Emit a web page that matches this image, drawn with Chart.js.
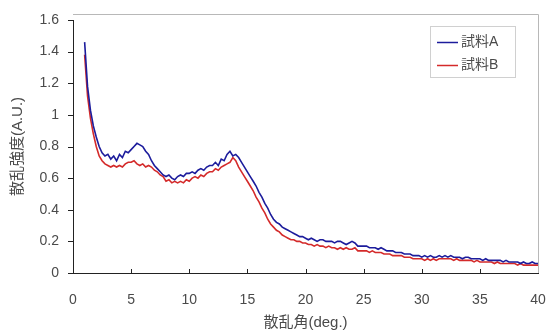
<!DOCTYPE html>
<html>
<head>
<meta charset="utf-8">
<script src="https://cdn.jsdelivr.net/npm/chart.js@4"></script>
<style>
  html, body { margin: 0; padding: 0; background: #fff; }
  #wrap { width: 550px; height: 335px; }
</style>
</head>
<body>
<div id="wrap"><canvas id="myChart" width="550" height="335"></canvas></div>
<script>
// 散乱角 (deg) : 1.0 から 0.25 刻み
var angleStart = 1.0;
var angleStep = 0.25;

var seriesNames = ['試料A', '試料B'];
var seriesColors = ['#1c1c9c', '#d42a2a'];

// 試料A (1行 = 1 deg 分)
var sampleA = [
  1.46, 1.18, 1.03, 0.93,
  0.86, 0.80, 0.76, 0.74,
  0.75, 0.72, 0.74, 0.71,
  0.75, 0.73, 0.77, 0.76,
  0.78, 0.80, 0.82, 0.81,
  0.80, 0.77, 0.75, 0.71,
  0.68, 0.66, 0.64, 0.62,
  0.61, 0.62, 0.60, 0.59,
  0.61, 0.62, 0.61, 0.63,
  0.63, 0.64, 0.63, 0.65,
  0.66, 0.65, 0.67, 0.68,
  0.68, 0.70, 0.68, 0.72,
  0.71, 0.75, 0.77, 0.74,
  0.75, 0.73, 0.70, 0.67,
  0.64, 0.61, 0.58, 0.55,
  0.51, 0.48, 0.44, 0.41,
  0.37, 0.34, 0.32, 0.31,
  0.29, 0.28, 0.27, 0.26,
  0.25, 0.24, 0.23, 0.23,
  0.22, 0.21, 0.22, 0.21,
  0.20, 0.21, 0.21, 0.20,
  0.20, 0.20, 0.19, 0.20,
  0.20, 0.19, 0.18, 0.19,
  0.20, 0.19, 0.17, 0.17,
  0.17, 0.17, 0.16, 0.16,
  0.16, 0.15, 0.16, 0.15,
  0.14, 0.14, 0.14, 0.13,
  0.13, 0.13, 0.12, 0.12,
  0.12, 0.11, 0.11, 0.11,
  0.10, 0.11, 0.10, 0.11,
  0.10, 0.10, 0.11, 0.10,
  0.11, 0.10, 0.11, 0.10,
  0.10, 0.10, 0.09, 0.10,
  0.10, 0.09, 0.09, 0.09,
  0.09, 0.08, 0.09, 0.08,
  0.08, 0.08, 0.08, 0.08,
  0.07, 0.08, 0.07, 0.07,
  0.07, 0.07, 0.06, 0.07,
  0.06, 0.06, 0.07, 0.06,
  0.06
];

// 試料B
var sampleB = [
  1.38, 1.12, 0.98, 0.88,
  0.80, 0.74, 0.71, 0.69,
  0.68, 0.67, 0.68, 0.67,
  0.68, 0.67, 0.69, 0.70,
  0.70, 0.71, 0.69, 0.68,
  0.69, 0.67, 0.68, 0.67,
  0.65, 0.64, 0.62, 0.61,
  0.58, 0.59, 0.57, 0.58,
  0.57, 0.58, 0.57, 0.59,
  0.58, 0.60, 0.61, 0.60,
  0.62, 0.61, 0.63, 0.64,
  0.64, 0.66, 0.65, 0.67,
  0.68, 0.69, 0.70, 0.73,
  0.71, 0.67, 0.64, 0.61,
  0.58, 0.55, 0.52, 0.48,
  0.45, 0.41, 0.38, 0.34,
  0.31, 0.29, 0.27, 0.26,
  0.24, 0.23, 0.22, 0.21,
  0.21, 0.20, 0.20, 0.19,
  0.19, 0.18, 0.18, 0.17,
  0.18, 0.17, 0.17, 0.16,
  0.17, 0.16, 0.16, 0.15,
  0.16, 0.15, 0.16, 0.15,
  0.15, 0.16, 0.14, 0.14,
  0.14, 0.14, 0.13, 0.14,
  0.13, 0.13, 0.13, 0.12,
  0.12, 0.12, 0.11, 0.11,
  0.11, 0.11, 0.10, 0.10,
  0.10, 0.09, 0.09, 0.09,
  0.09, 0.08, 0.09, 0.08,
  0.09, 0.08, 0.09, 0.09,
  0.09, 0.09, 0.09, 0.08,
  0.09, 0.08, 0.08, 0.08,
  0.08, 0.08, 0.07, 0.08,
  0.07, 0.07, 0.07, 0.07,
  0.07, 0.06, 0.07, 0.06,
  0.06, 0.06, 0.06, 0.06,
  0.06, 0.05, 0.06, 0.05,
  0.05, 0.05, 0.05, 0.05,
  0.05
];

var xTicks = [0, 5, 10, 15, 20, 25, 30, 35, 40];
var yTicks = [0, 0.2, 0.4, 0.6, 0.8, 1, 1.2, 1.4, 1.6];

var FONT = "'Liberation Sans', 'Noto Sans CJK JP', sans-serif";
var TEXT = '#4a4a4a';

function toPoints(vals) {
  var pts = [];
  vals.forEach(function (v, i) {
    pts.push({ x: angleStart + i * angleStep, y: v });
  });
  return pts;
}

// 枠・目盛・凡例
var framePlugin = {
  id: 'frame',
  afterDatasetsDraw: function (chart) {
    var c = chart.ctx, a = chart.chartArea;
    var xs = chart.scales.x, ys = chart.scales.y;
    c.save();
    // 上・右の薄い枠
    c.strokeStyle = '#b8b8b8';
    c.lineWidth = 1;
    c.beginPath();
    c.moveTo(a.left, a.top - 6 + 0.5);
    c.lineTo(a.right + 0.5, a.top - 6 + 0.5);
    c.lineTo(a.right + 0.5, a.bottom);
    c.stroke();
    // x 軸の内向き目盛
    c.strokeStyle = '#222';
    c.beginPath();
    xTicks.forEach(function (t) {
      if (t === 0 || t === 40) return;
      var px = Math.round(xs.getPixelForValue(t)) + 0.5;
      c.moveTo(px, a.bottom);
      c.lineTo(px, a.bottom - 4);
    });
    // y 軸の外向き目盛
    yTicks.forEach(function (t) {
      var py = Math.round(ys.getPixelForValue(t)) + 0.5;
      c.moveTo(a.left, py);
      c.lineTo(a.left - 5, py);
    });
    c.stroke();

    // 凡例
    var bx = 430, by = 26, bw = 85, bh = 51;
    c.fillStyle = '#fff';
    c.fillRect(bx, by, bw, bh);
    c.strokeStyle = '#d0d0d0';
    c.strokeRect(bx + 0.5, by + 0.5, bw, bh);
    c.font = '14px ' + FONT;
    c.textBaseline = 'middle';
    chart.data.datasets.forEach(function (ds, i) {
      var yy = by + 16 + i * 23;
      c.strokeStyle = ds.borderColor;
      c.lineWidth = 1.5;
      c.beginPath();
      c.moveTo(bx + 7, yy + 0.5);
      c.lineTo(bx + 28, yy + 0.5);
      c.stroke();
      c.fillStyle = TEXT;
      c.fillText(ds.label, bx + 31, yy);
    });
    c.restore();
  }
};

var ctx = document.getElementById('myChart').getContext('2d');

var myChart = new Chart(ctx, {
  type: 'line',
  data: {
    datasets: seriesNames.map(function (name, i) {
      return {
        label: name,
        data: toPoints(i === 0 ? sampleA : sampleB),
        borderColor: seriesColors[i],
        borderWidth: 1.6,
        pointRadius: 0,
        fill: false,
        tension: 0
      };
    })
  },
  options: {
    responsive: false,
    animation: false,
    layout: { padding: { top: 20, right: 12, left: 0, bottom: 0 } },
    plugins: {
      legend: { display: false },
      tooltip: { enabled: false }
    },
    scales: {
      x: {
        type: 'linear',
        min: 0,
        max: 40,
        afterBuildTicks: function (s) {
          s.ticks = xTicks.map(function (v) { return { value: v }; });
        },
        grid: { display: false, drawTicks: false },
        border: { color: '#222', width: 1 },
        ticks: {
          color: TEXT,
          font: { family: FONT, size: 14 },
          padding: 19,
          maxRotation: 0
        },
        title: {
          display: true,
          text: '散乱角(deg.)',
          color: TEXT,
          font: { family: FONT, size: 15 },
          padding: { top: 0, bottom: 3 }
        },
        afterFit: function (s) {
          s.height = 62;
          s.paddingLeft = 0;
          s.paddingRight = 0;
        }
      },
      y: {
        min: 0,
        max: 1.6,
        afterBuildTicks: function (s) {
          s.ticks = yTicks.map(function (v) { return { value: v }; });
        },
        grid: { display: false, drawTicks: false },
        border: { color: '#222', width: 1 },
        ticks: {
          color: TEXT,
          font: { family: FONT, size: 14 },
          padding: 14,
          callback: function (v) { return String(Number(v.toFixed(1))); }
        },
        title: {
          display: true,
          text: '散乱強度(A.U.)',
          color: TEXT,
          font: { family: FONT, size: 15 },
          padding: { top: 9, bottom: 0 }
        },
        afterFit: function (s) {
          s.width = 73;
          s.paddingTop = 0;
          s.paddingBottom = 0;
        }
      }
    }
  },
  plugins: [framePlugin]
});
</script>
</body>
</html>
